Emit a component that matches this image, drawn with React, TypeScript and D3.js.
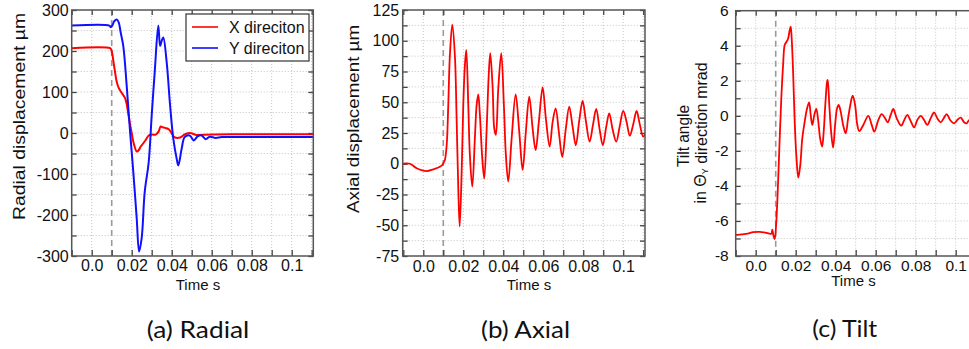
import React, { useEffect, useRef } from "react";
import * as d3 from "d3";

// [time s, value]
const radialX: [number, number][] = [
  [-0.01, 207], [0.0092, 207], [0.0098, 203], [0.0104, 190], [0.011, 170], [0.0117, 148],
  [0.0125, 125], [0.0135, 110], [0.0147, 100], [0.0158, 92], [0.0167, 85], [0.0175, 70],
  [0.0183, 47], [0.0192, 20], [0.02, 0], [0.021, -25], [0.0225, -45], [0.0235, -42],
  [0.0245, -33], [0.0258, -25], [0.027, -17], [0.0285, -6], [0.03, -4], [0.032, -4],
  [0.0335, 4], [0.0345, 16], [0.0355, 14], [0.037, 12], [0.0385, 9], [0.0395, 3],
  [0.0413, -10], [0.0442, -11], [0.0467, -3], [0.0492, 0], [0.0525, -5], [0.056, -4],
  [0.07, -3], [0.09, -3], [0.111, -3],
];

const radialY: [number, number][] = [
  [-0.01, 262], [0.0088, 262], [0.0095, 258], [0.0103, 262], [0.0112, 272], [0.0125, 277],
  [0.0135, 270], [0.0145, 245], [0.0158, 212], [0.0175, 115], [0.0192, 2], [0.0208, -95],
  [0.0225, -208], [0.0237, -289], [0.025, -256], [0.0265, -144], [0.0285, -71], [0.03, 43],
  [0.0315, 148], [0.0333, 262], [0.0342, 212], [0.035, 225], [0.0358, 233], [0.0375, 172],
  [0.0392, 67], [0.0408, -14], [0.0425, -63], [0.0433, -79], [0.045, -38], [0.0465, -10],
  [0.049, -6], [0.051, -18], [0.053, -8], [0.055, -6], [0.057, -15], [0.059, -9],
  [0.062, -12], [0.065, -10], [0.08, -10], [0.111, -10],
];

const axial: [number, number][] = [
  [-0.0105, 0], [-0.0067, 0], [-0.0033, -3.7], [0.0017, -6], [0.005, -4.5], [0.0083, -2.5],
  [0.0095, -1], [0.0102, 1], [0.0108, 3], [0.0117, 15], [0.0125, 48], [0.0133, 88],
  [0.0145, 113], [0.0158, 88], [0.0167, 34], [0.0175, -20], [0.0182, -51], [0.0192, -6.5],
  [0.02, 48], [0.0208, 80], [0.0215, 92.5], [0.0225, 48], [0.0233, 7], [0.0245, -18.6],
  [0.0258, 20.7], [0.0267, 48], [0.0275, 56.4], [0.0283, 40], [0.0295, 4.4], [0.0305, -12],
  [0.0317, 28.5], [0.0327, 71], [0.0335, 90], [0.0347, 61.4], [0.0355, 28.5], [0.0363, 23.4],
  [0.0375, 61], [0.039, 90], [0.0403, 48], [0.0413, 7.4], [0.0425, -14.6], [0.0442, 20.7],
  [0.0462, 56.4], [0.048, 26], [0.0497, -5], [0.0513, 26], [0.053, 54.5], [0.0547, 28.5],
  [0.0562, 11], [0.0578, 34], [0.0597, 62], [0.0613, 37], [0.0632, 14], [0.0647, 34],
  [0.0662, 45], [0.0678, 26], [0.0695, 5.7], [0.0713, 28.5], [0.073, 46.4], [0.0747, 30],
  [0.0763, 15], [0.078, 35], [0.0797, 51], [0.0813, 35], [0.0832, 18], [0.0848, 31],
  [0.0865, 44.5], [0.0882, 28], [0.0898, 15], [0.0915, 30], [0.093, 41], [0.0947, 28],
  [0.0965, 18], [0.0982, 30], [0.1, 43], [0.1017, 34], [0.1033, 22.8], [0.105, 32],
  [0.1067, 43], [0.1083, 32], [0.11, 22], [0.1113, 26],
];

const tilt: [number, number][] = [
  [-0.0105, -6.8], [-0.008, -6.78], [-0.004, -6.72], [-0.0013, -6.64], [0.002, -6.62],
  [0.0047, -6.66], [0.0078, -6.73], [0.0083, -6.5], [0.0088, -6.8], [0.0095, -7.03],
  [0.0103, -6.04], [0.0112, -3.76], [0.012, -1.28], [0.0128, 1.0], [0.0137, 2.9],
  [0.0145, 4.04], [0.0153, 4.2], [0.0162, 4.4], [0.017, 4.9], [0.0175, 5.09], [0.018, 4.4],
  [0.0187, 2.52], [0.0195, -0.33], [0.0203, -2.24], [0.0213, -3.53], [0.0223, -2.8],
  [0.0233, -1.28], [0.0245, -0.33], [0.0257, 0.43], [0.0267, 0.77], [0.0275, 0.05],
  [0.0283, -0.52], [0.0293, 0.05], [0.0303, 0.39], [0.0313, -0.33], [0.0322, -1.28],
  [0.0332, -1.76], [0.034, -0.9], [0.0348, 0.62], [0.0357, 1.95], [0.036, 2.05],
  [0.0368, 0.62], [0.0377, -0.9], [0.0387, -1.82], [0.0397, -0.52], [0.0407, 0.43],
  [0.0415, 0.62], [0.0425, 0.24], [0.0437, -0.52], [0.045, -1.0], [0.0462, -0.14],
  [0.0473, 0.62], [0.0485, 1.15], [0.0497, 0.62], [0.0508, -0.52], [0.0518, -0.87],
  [0.0538, -0.52], [0.0563, 0], [0.058, -0.52], [0.0593, -0.9], [0.0613, -0.24],
  [0.063, 0.1], [0.0647, -0.14], [0.066, -0.37], [0.0675, 0.05], [0.0688, 0.39],
  [0.0705, -0.14], [0.0727, -0.56], [0.0743, -0.24], [0.0758, 0.05], [0.0775, -0.3],
  [0.0792, -0.66], [0.0808, -0.24], [0.0825, 0], [0.0842, -0.24], [0.0858, -0.52],
  [0.0875, -0.14], [0.0892, 0.19], [0.0908, -0.14], [0.0925, -0.37], [0.094, -0.14],
  [0.0955, 0.1], [0.0972, -0.24], [0.0992, -0.43], [0.1008, -0.24], [0.1025, -0.1],
  [0.1042, -0.37], [0.1055, -0.43], [0.1068, -0.24], [0.111, -0.3],
];

const timeLabels = ["0.0", "0.02", "0.04", "0.06", "0.08", "0.1"];
const timeMajor = [0, 0.02, 0.04, 0.06, 0.08, 0.1];
const radialTicks = [-300, -200, -100, 0, 100, 200, 300];
const axialTicks = [-75, -50, -25, 0, 25, 50, 75, 100, 125];
const tiltTicks = [-8, -6, -4, -2, 0, 2, 4, 6];
const legendNames = ["X direciton", "Y direciton"];
const impactTime = 0.01;

const RED = "#ff0000";
const BLUE = "#1010ff";
const FONT = "'Liberation Sans', Arial, sans-serif";
const INK = "#111";

const panels = [
  {
    id: "a", left: 71.7, right: 313.3, top: 10, bottom: 256,
    xDomain: [-0.01, 0.1108], yDomain: [-300, 300], yTicks: radialTicks, yStep: 50,
    tickFont: 16, yPad: 3, xPad: 4, lineWidth: 2,
    series: [{ data: radialX, color: RED }, { data: radialY, color: BLUE }],
  },
  {
    id: "b", left: 402.7, right: 645, top: 10, bottom: 256,
    xDomain: [-0.0103, 0.1109], yDomain: [-75, 125], yTicks: axialTicks, yStep: 12.5,
    tickFont: 16, yPad: 3.5, xPad: 5, lineWidth: 1.8,
    series: [{ data: axial, color: RED }],
  },
  {
    id: "c", left: 735.7, right: 977.7, top: 10.7, bottom: 256,
    xDomain: [-0.01, 0.111], yDomain: [-8, 6], yTicks: tiltTicks, yStep: 1,
    tickFont: 15.5, yPad: 7, xPad: 3.5, lineWidth: 1.8,
    series: [{ data: tilt, color: RED }],
  },
];

function Panel({ cfg }: { cfg: any }) {
  const ref = useRef<SVGGElement>(null);

  useEffect(() => {
    const g = d3.select(ref.current);
    g.selectAll("*").remove();

    const x = d3.scaleLinear().domain(cfg.xDomain).range([cfg.left, cfg.right]);
    const y = d3.scaleLinear().domain(cfg.yDomain).range([cfg.bottom, cfg.top]);

    const xMinor = d3.range(-1, 12).map(i => i / 100)
      .filter(v => v >= cfg.xDomain[0] - 1e-9 && v <= cfg.xDomain[1]);
    const n = Math.round((cfg.yDomain[1] - cfg.yDomain[0]) / cfg.yStep);
    const yMinor = d3.range(0, n + 1).map(i => cfg.yDomain[0] + i * cfg.yStep);

    const labelFor = (d: number) => {
      const i = timeMajor.findIndex(m => Math.abs(m - d) < 1e-9);
      return i >= 0 ? timeLabels[i] : "";
    };

    const clipId = "clip-" + cfg.id;
    g.append("clipPath").attr("id", clipId)
      .append("rect")
      .attr("x", cfg.left).attr("y", cfg.top)
      .attr("width", cfg.right - cfg.left).attr("height", cfg.bottom - cfg.top);

    // dotted grid
    g.append("g").selectAll("line").data(xMinor.filter(v => Math.abs(v - impactTime) > 1e-9)).join("line")
      .attr("x1", d => x(d)).attr("x2", d => x(d))
      .attr("y1", cfg.top).attr("y2", cfg.bottom)
      .attr("stroke", "#c4c4c4").attr("stroke-width", 1).attr("stroke-dasharray", "1,2");
    g.append("g").selectAll("line").data(yMinor.slice(1, -1)).join("line")
      .attr("x1", cfg.left).attr("x2", cfg.right)
      .attr("y1", d => y(d)).attr("y2", d => y(d))
      .attr("stroke", "#c4c4c4").attr("stroke-width", 1).attr("stroke-dasharray", "1,2");

    // impact marker
    g.append("line")
      .attr("x1", x(impactTime)).attr("x2", x(impactTime))
      .attr("y1", cfg.top).attr("y2", cfg.bottom)
      .attr("stroke", "#9a9a9a").attr("stroke-width", 1.6).attr("stroke-dasharray", "6,4");

    // axes, ticks pointing inward
    const styleAxis = (sel: any, size: number) => {
      sel.select(".domain").remove();
      sel.attr("color", "#444");
      sel.selectAll("line").attr("stroke-width", 1.3);
      sel.selectAll("text").attr("font-size", size).attr("font-family", FONT).attr("fill", INK);
    };

    g.append("g").attr("transform", `translate(0,${cfg.bottom})`)
      .call(d3.axisBottom(x).tickValues(xMinor).tickSize(-6).tickPadding(cfg.xPad).tickFormat(labelFor as any))
      .call(s => styleAxis(s, cfg.tickFont));
    g.append("g").attr("transform", `translate(0,${cfg.top})`)
      .call(d3.axisTop(x).tickValues(xMinor).tickSize(-5).tickFormat(() => ""))
      .call(s => styleAxis(s, cfg.tickFont));
    g.append("g").attr("transform", `translate(${cfg.left},0)`)
      .call(d3.axisLeft(y).tickValues(yMinor).tickSize(-5).tickPadding(cfg.yPad)
        .tickFormat(((d: number) => (cfg.yTicks.includes(d) ? String(d) : "")) as any))
      .call(s => styleAxis(s, cfg.tickFont));
    g.append("g").attr("transform", `translate(${cfg.right},0)`)
      .call(d3.axisRight(y).tickValues(yMinor).tickSize(-5).tickFormat(() => ""))
      .call(s => styleAxis(s, cfg.tickFont));

    // curves
    const line = d3.line<[number, number]>()
      .x(d => x(d[0])).y(d => y(d[1]))
      .curve(d3.curveCatmullRom.alpha(0.5));
    const plot = g.append("g").attr("clip-path", `url(#${clipId})`);
    cfg.series.forEach((s: any) => {
      plot.append("path")
        .datum(s.data)
        .attr("d", line)
        .attr("fill", "none")
        .attr("stroke", s.color)
        .attr("stroke-width", cfg.lineWidth)
        .attr("stroke-linejoin", "round");
    });

    // frame
    g.append("rect")
      .attr("x", cfg.left).attr("y", cfg.top)
      .attr("width", cfg.right - cfg.left).attr("height", cfg.bottom - cfg.top)
      .attr("fill", "none").attr("stroke", "#555").attr("stroke-width", 1.5);

    if (cfg.id === "a") {
      const lg = g.append("g");
      lg.append("rect").attr("x", 186).attr("y", 14).attr("width", 123).attr("height", 47)
        .attr("fill", "white").attr("stroke", "#333").attr("stroke-width", 1.2);
      legendNames.forEach((name, i) => {
        const yy = 27 + i * 21;
        lg.append("line").attr("x1", 192).attr("x2", 218).attr("y1", yy).attr("y2", yy)
          .attr("stroke", cfg.series[i].color).attr("stroke-width", 1.6);
        lg.append("text").attr("x", 229).attr("y", yy).attr("dy", "0.36em")
          .attr("font-size", 16).attr("font-family", FONT).attr("fill", INK).text(name);
      });
    }
  }, [cfg]);

  return <g ref={ref} />;
}

export default function App() {
  return (
    <svg width={969} height={349} style={{ position: "absolute", left: 0, top: 0, background: "white" }}>
      {panels.map(p => <Panel key={p.id} cfg={p} />)}

      <g fontFamily={FONT} fill={INK}>
        <text x={198} y={290} fontSize={15} textAnchor="middle">Time s</text>
        <text x={529} y={290} fontSize={15} textAnchor="middle">Time s</text>
        <text x={853.5} y={286} fontSize={15} textAnchor="middle">Time s</text>

        <text transform="translate(19,116.5) rotate(-90)" fontSize={16} textAnchor="middle"
          dominantBaseline="central" textLength={207} lengthAdjust="spacingAndGlyphs">Radial displacement µm</text>
        <text transform="translate(353.5,119) rotate(-90)" fontSize={16} textAnchor="middle"
          dominantBaseline="central" textLength={188} lengthAdjust="spacingAndGlyphs">Axial displacement µm</text>
        <text transform="translate(683,136) rotate(-90)" fontSize={16} textAnchor="middle"
          dominantBaseline="central" textLength={62} lengthAdjust="spacingAndGlyphs">Tilt angle</text>
        <text transform="translate(700.5,133) rotate(-90)" fontSize={16} textAnchor="middle"
          dominantBaseline="central">in Θ<tspan fontSize={9} dy={4}>Y</tspan><tspan dy={-4}> direction mrad</tspan></text>
      </g>

      <g fontFamily="Lato, 'Open Sans', sans-serif" fill={INK} fontSize={24}>
        <text x={146.7} y={338} textLength={102.6} lengthAdjust="spacingAndGlyphs">(a) Radial</text>
        <text x={481} y={338} textLength={89} lengthAdjust="spacingAndGlyphs">(b) Axial</text>
        <text x={812.3} y={337} textLength={65} lengthAdjust="spacingAndGlyphs">(c) Tilt</text>
      </g>
    </svg>
  );
}
